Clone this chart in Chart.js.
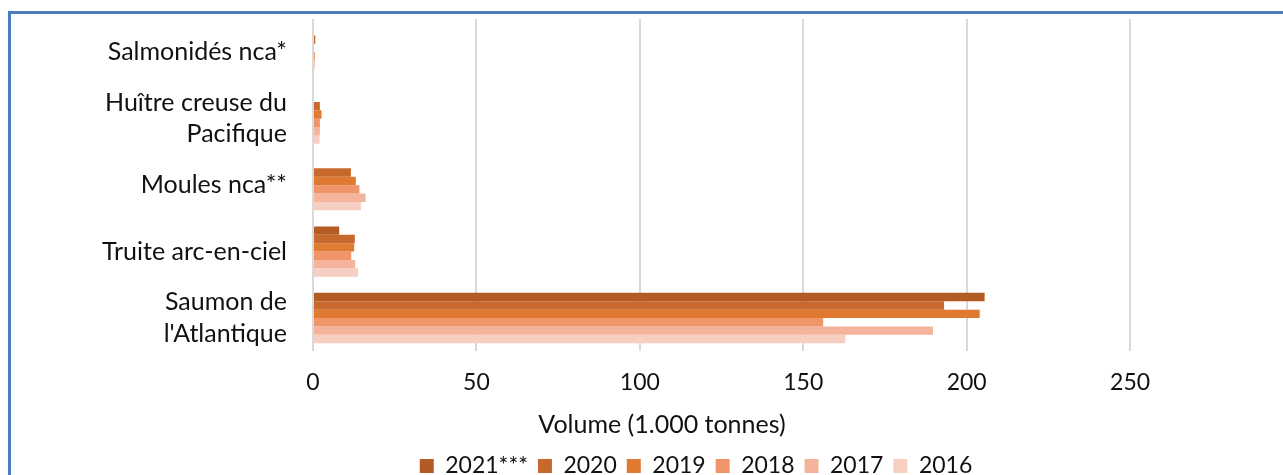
<!DOCTYPE html>
<html><head><meta charset="utf-8">
<script src="https://cdn.jsdelivr.net/npm/chart.js@4"></script>
<style>
html,body{margin:0;padding:0;background:#fff;overflow:hidden;}
#wrap{position:relative;width:1283px;height:475px;overflow:hidden;}
#frame{position:absolute;left:8px;top:11px;width:2000px;height:1000px;border-left:3px solid #4A7EBB;border-top:3px solid #4A7EBB;}
canvas{position:absolute;left:0;top:0;}
</style></head><body>
<div id="wrap"><div id="frame"></div><canvas id="c" width="1283" height="475"></canvas></div>
<script>
const categories = [["Salmonidés nca*"], ["Huître creuse du", "Pacifique"], ["Moules nca**"], ["Truite arc-en-ciel"], ["Saumon de", "l'Atlantique"]];
const seriesNames = ["2021***", "2020", "2019", "2018", "2017", "2016"];
const v2021 = [null, null, null, 8.0, 205.5];
const v2020 = [0.7, 2.1, 11.6, 12.8, 193.1];
const v2019 = [null, 2.6, 13.1, 12.6, 204.0];
const v2018 = [0.6, 2.1, 14.2, 11.7, 156.1];
const v2017 = [0.5, 2.1, 16.1, 12.9, 189.7];
const v2016 = [0.2, 2.0, 14.7, 13.8, 162.9];
const xTicks = [0, 50, 100, 150, 200, 250];
const axisTitle = "Volume (1.000 tonnes)";

const seriesValues = [v2021, v2020, v2019, v2018, v2017, v2016];
const colors = ["#B25B22", "#C7692D", "#E07A30", "#F0946A", "#F4B49B", "#F7CFC2"];
const FONT = "Lato, 'Open Sans', sans-serif";
const TXT = "#111111";

const shiftBoxes = {
  id: 'shiftBoxes',
  afterLayout(chart) {
    const lg = chart.legend;
    if (lg) { lg.left += 34; lg.right += 34; lg.top += 12.5; lg.bottom += 12.5; }
    const tt = chart.titleBlock;
    if (tt) { tt.top += 7.5; tt.bottom += 7.5; }
  }
};

new Chart(document.getElementById('c'), {
  type: 'bar',
  data: {
    labels: categories,
    datasets: seriesNames.map((n, i) => ({
      label: n,
      data: seriesValues[i],
      backgroundColor: colors[i],
      borderWidth: 0,
      categoryPercentage: 0.758,
      barPercentage: 1.0
    }))
  },
  options: {
    indexAxis: 'y',
    responsive: false,
    animation: false,
    devicePixelRatio: 1,
    layout: { padding: { left: 41, top: 19, right: 0, bottom: 0 } },
    scales: {
      x: {
        min: 0, max: 296.8,
        afterBuildTicks(scale) { scale.ticks = xTicks.map(v => ({ value: v })); },
        afterFit(scale) { scale.paddingLeft = 0; scale.paddingRight = 0; scale.height = 45; },
        grid: { color: '#D9D9D9', lineWidth: 2, drawTicks: false },
        border: { display: false },
        ticks: { padding: 18, color: TXT, font: { family: FONT, size: 23, lineHeight: 1.2 } },
        title: { display: false }
      },
      y: {
        afterFit(scale) { scale.width = 272; scale.paddingTop = 0; scale.paddingBottom = 0; },
        grid: { display: false, drawTicks: false },
        border: { display: false },
        ticks: { autoSkip: false, padding: 26, color: TXT, font: { family: FONT, size: 25, lineHeight: 1.25 } }
      }
    },
    plugins: {
      tooltip: { enabled: false },
      title: {
        display: true, text: axisTitle, position: 'bottom', weight: 100,
        color: TXT, font: { family: FONT, size: 25, weight: 'normal', lineHeight: 1.15 },
        padding: { top: 7, bottom: 0 }
      },
      legend: {
        position: 'bottom',
        labels: { boxWidth: 14, boxHeight: 14, padding: 10, color: TXT, font: { family: FONT, size: 23 } }
      }
    }
  },
  plugins: [shiftBoxes]
});
</script>
</body></html>
